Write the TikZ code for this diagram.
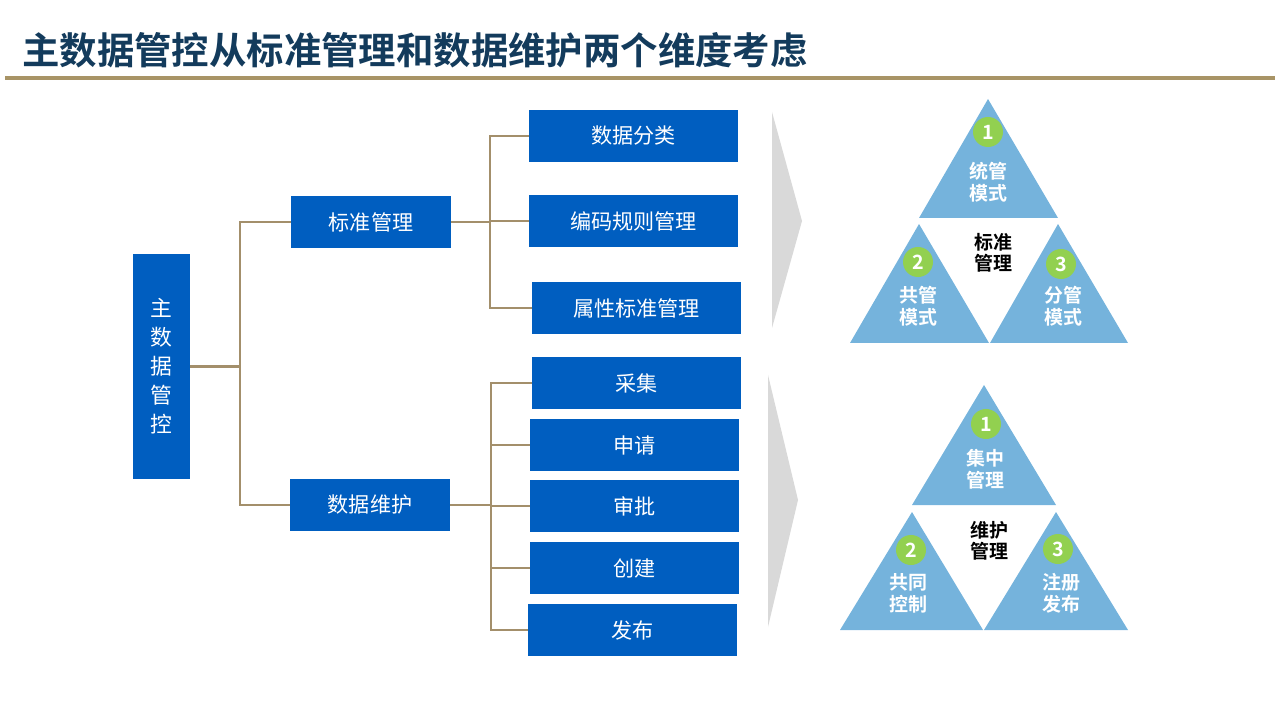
\documentclass[tikz,border=0pt]{standalone}
\usepackage{fontspec}
\setmainfont{Noto Sans CJK SC}
\newfontfamily\cjkbold{Noto Sans CJK SC Bold}
\usepackage{xcolor}
\definecolor{cTitle}{HTML}{133B5C}
\definecolor{cBox}{HTML}{005EC0}
\definecolor{cLine}{HTML}{A38F6B}
\definecolor{cRule}{HTML}{A89466}
\definecolor{cTri}{HTML}{75B3DC}
\definecolor{cNum}{HTML}{92D050}
\definecolor{cChev}{HTML}{D9D9D9}
\usetikzlibrary{positioning,calc}
\tikzset{
  node-root/.style={fill=cBox,text=white,minimum width=1.425cm,minimum height=5.625cm,
    align=center,font=\fontsize{15.5}{20.6}\selectfont,inner sep=0pt},
  node-mid/.style={fill=cBox,text=white,minimum width=4cm,minimum height=1.3cm,
    font=\fontsize{15}{18}\selectfont,inner sep=0pt},
  node-leaf/.style={fill=cBox,text=white,minimum width=5.225cm,minimum height=1.3cm,
    font=\fontsize{15}{18}\selectfont,inner sep=0pt},
  link/.style={draw=cLine,line width=1.5pt},
  tri/.style={fill=cTri},
  chev/.style={fill=cChev},
  num/.style={circle,fill=cNum,text=white,minimum size=0.75cm,inner sep=0pt,
    font=\cjkbold\fontsize{14}{14}\selectfont},
  tri-label/.style={text=white,align=center,font=\cjkbold\fontsize{13.5}{15.6}\selectfont},
  core-label/.style={text=black,align=center,font=\cjkbold\fontsize{13.5}{15.2}\selectfont},
}

\begin{document}
\begin{tikzpicture}[x=0.025cm,y=-0.025cm]
  \useasboundingbox (0,0) rectangle (1280,720);
  % 标题
  \node[anchor=west,text=cTitle,font=\cjkbold\fontsize{26.6}{30}\selectfont,inner sep=0pt]
    (title) at (22,50) {主数据管控从标准管理和数据维护两个维度考虑};
  \coordinate (ruleL) at (5,78);
  \coordinate (ruleR) at (1275,78);
  \draw[draw=cRule,line width=2.8pt] (ruleL) -- (ruleR);

  % 左侧树
  \node[node-root] (root) at (161.5,366.5) {主\\数\\据\\管\\控};
  \node[node-mid]  (std)  at (371,222) {标准管理};
  \node[node-mid]  (mnt)  at (370,505) {数据维护};

  \node[node-leaf] (s1) at (633.5,136) {数据分类};
  \node[node-leaf] (s2) at (633.5,221) {编码规则管理};
  \node[node-leaf] (s3) at (636.5,308) {属性标准管理};

  \node[node-leaf] (m1) at (636.5,383) {采集};
  \node[node-leaf] (m2) at (634.5,445) {申请};
  \node[node-leaf] (m3) at (634.5,506) {审批};
  \node[node-leaf] (m4) at (634.5,568) {创建};
  \node[node-leaf] (m5) at (632.5,630) {发布};

  \draw[link] (root.east) -- ++(50,0) |- (std.west);
  \draw[link] (root.east) -- ++(50,0) |- (mnt.west);
  \foreach \c in {s1,s2,s3}
    \draw[link] (std.east) -- ++(39,0) |- (\c.west);
  \foreach \c in {m1,m2,m3,m4,m5}
    \draw[link] (mnt.east) -- ++(41,0) |- (\c.west);

  % 灰色箭头
  \fill[chev] (772,112) -- (802,221) -- (772,328) -- cycle;
  \fill[chev] (768,375) -- (798,500) -- (768,627) -- cycle;

  % 标准管理三角
  \fill[tri] (988,99)  -- (1058,218) -- (919,218) -- cycle;
  \fill[tri] (919,224) -- (989,343)  -- (850,343) -- cycle;
  \fill[tri] (1058,224) -- (1128,343) -- (990,343) -- cycle;
  \node[num] (a1) at (988,132) {1};
  \node[num] (a2) at (918,262) {2};
  \node[num] (a3) at (1061,264) {3};
  \node[tri-label]  (a1t) at (988,182)  {统管\\模式};
  \node[tri-label]  (a2t) at (918,306)  {共管\\模式};
  \node[tri-label]  (a3t) at (1063,306) {分管\\模式};
  \node[core-label] (acore) at (993,253) {标准\\管理};

  % 维护管理三角
  \fill[tri] (984,385) -- (1056,505) -- (912,505) -- cycle;
  \fill[tri] (912,512) -- (983,630)  -- (840,630) -- cycle;
  \fill[tri] (1056,512) -- (1128,630) -- (984,630) -- cycle;
  \node[num] (b1) at (986,424) {1};
  \node[num] (b2) at (911,550) {2};
  \node[num] (b3) at (1058,549) {3};
  \node[tri-label]  (b1t) at (985,469)  {集中\\管理};
  \node[tri-label]  (b2t) at (908,593)  {共同\\控制};
  \node[tri-label]  (b3t) at (1061,593) {注册\\发布};
  \node[core-label] (bcore) at (989,541) {维护\\管理};
\end{tikzpicture}
\end{document}
